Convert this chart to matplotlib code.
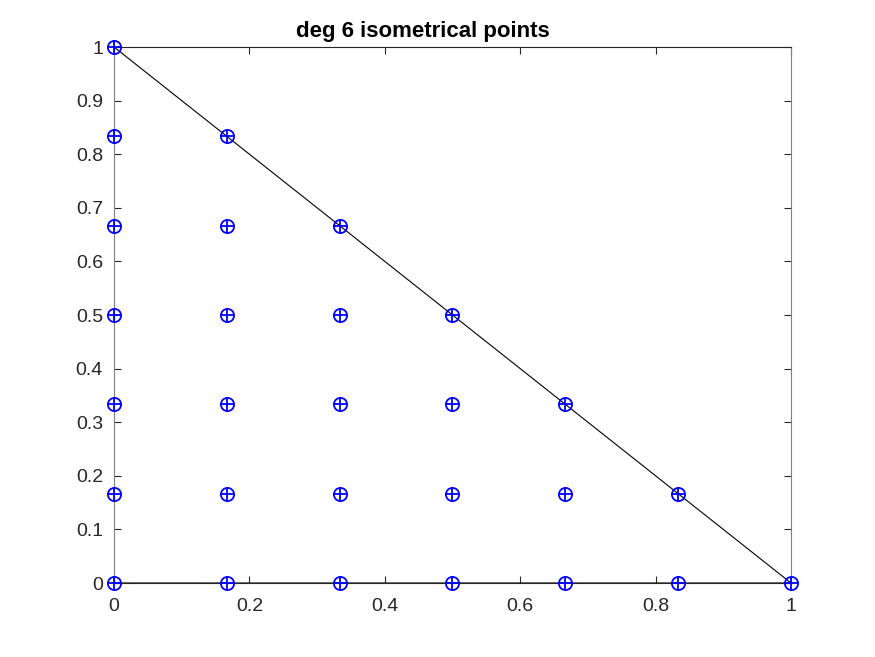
import matplotlib
matplotlib.use("Agg")
import matplotlib.pyplot as plt
import numpy as np

plt.rcParams['font.family'] = ['Liberation Sans', 'DejaVu Sans']

deg = 6
x_pts = [0, 1/6, 2/6, 3/6, 4/6, 5/6, 1,
         0, 1/6, 2/6, 3/6, 4/6, 5/6,
         0, 1/6, 2/6, 3/6, 4/6,
         0, 1/6, 2/6, 3/6,
         0, 1/6, 2/6,
         0, 1/6,
         0]
y_pts = [0]*7 + [1/6]*6 + [2/6]*5 + [3/6]*4 + [4/6]*3 + [5/6]*2 + [1]
tri_x = [0, 1, 0]
tri_y = [1, 0, 0]
xticks = [0, 0.2, 0.4, 0.6, 0.8, 1]
yticks = [0, 0.1, 0.2, 0.3, 0.4, 0.5, 0.6, 0.7, 0.8, 0.9, 1]

fig = plt.figure(figsize=(8.75, 6.57), dpi=100)
ax = fig.add_axes([114/875, 74/657, 677/875, 536/657])
ax.plot(tri_x, tri_y, color='black', lw=0.8, zorder=2)
ax.plot(x_pts, y_pts, linestyle='none', marker='o', mfc='none', mec='blue', ms=9.5, mew=1.3, zorder=3, clip_on=False)
ax.plot(x_pts, y_pts, linestyle='none', marker='+', color='blue', ms=9.5, mew=1.3, zorder=3, clip_on=False)
ax.set_xlim(0, 1)
ax.set_ylim(0, 1)
ax.set_xticks(xticks)
ax.set_xticklabels(['0', '0.2', '0.4', '0.6', '0.8', '1'])
ax.set_yticks(yticks)
ax.set_yticklabels(['0', '0.1', '0.2', '0.3', '0.4', '0.5', '0.6', '0.7', '0.8', '0.9', '1'])
ax.tick_params(direction='in', top=True, right=True, labelsize=14, length=5, width=0.8, colors='#262626')
ax.tick_params(axis='x', pad=11)
ax.tick_params(axis='y', pad=8)
for s in ax.spines.values():
    s.set_color('#262626')
    s.set_linewidth(0.8)
ax.spines['left'].set_color('#808080')
ax.spines['right'].set_color('#808080')
fig.text(423/875, 1 - 31/657, 'deg 6 isometrical points', fontsize=16, fontweight='bold',
         ha='center', va='center', color='black')
fig.savefig('out.png', dpi=100)
